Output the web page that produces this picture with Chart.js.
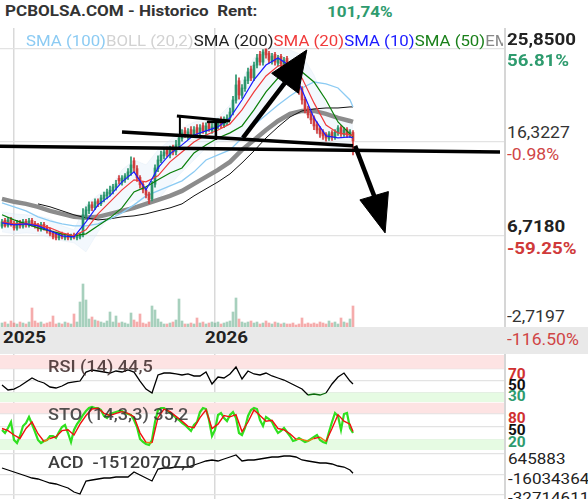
<!DOCTYPE html>
<html>
<head>
<meta charset="utf-8">
<script src="https://cdn.jsdelivr.net/npm/chart.js@4.4.1/dist/chart.umd.min.js"></script>
<style>
  body { margin: 0; width: 588px; height: 499px; overflow: hidden; background: #fff; position: relative; font-family: Roboto, "Noto Sans", sans-serif; }
  canvas { position: absolute; left: 0; }
  .t { position: absolute; white-space: pre; line-height: 1; transform: scaleX(1.1); transform-origin: left top; }
  .b { font-weight: 700; }
  .band { position: absolute; left: 0; top: 327px; width: 588px; height: 27px; background: #e9e9e9; }
  .sep { position: absolute; left: 504px; width: 2px; background: #d6d6d6; }
</style>
</head>
<body>
<canvas id="mainChart" width="504" height="300" style="top:28px"></canvas>
<canvas id="rsiChart" width="504" height="48" style="top:354px"></canvas>
<canvas id="stoChart" width="504" height="48" style="top:402px"></canvas>
<canvas id="acdChart" width="504" height="49" style="top:450px"></canvas>

<div class="band"></div>
<div class="sep" style="top:28px;height:299px"></div>
<div class="sep" style="top:354px;height:145px"></div>

<div class="t b" style="left:5px;top:4.3px;font-size:15.5px;color:#333">PCBOLSA.COM - Historico  Rent:</div>
<div class="t b" style="left:327px;top:4.8px;font-size:15.5px;color:#2e9b6e">101,74%</div>

<div style="position:absolute;left:26px;top:34px;width:477px;height:18px;overflow:hidden">
  <div class="t" style="left:0;top:0;font-size:15.3px"><span style="color:#8ccbf3">SMA (100)</span><span style="color:#d2d2d2">BOLL (20,2)</span><span style="color:#222">SMA (200)</span><span style="color:#f03a3a">SMA (20)</span><span style="color:#1a1aff">SMA (10)</span><span style="color:#1a801a">SMA (50)</span><span style="color:#888">EMA (200)</span></div>
</div>

<div class="t b" style="left:507px;top:30.5px;font-size:17px;color:#222">25,8500</div>
<div class="t b" style="left:507px;top:52px;font-size:17px;color:#2e9b6e">56.81%</div>
<div class="t" style="left:507px;top:124.5px;font-size:16px;color:#333">16,3227</div>
<div class="t" style="left:507px;top:146.5px;font-size:16px;color:#d04545">-0.98%</div>
<div class="t b" style="left:507px;top:217.5px;font-size:17px;color:#222">6,7180</div>
<div class="t b" style="left:507px;top:239.5px;font-size:17px;color:#d03a3a">-59.25%</div>
<div class="t" style="left:507px;top:308.5px;font-size:16px;color:#333">-2,7197</div>
<div class="t" style="left:507px;top:331.5px;font-size:16px;color:#d04545">-116.50%</div>

<div class="t b" style="left:3px;top:328.8px;font-size:17px;color:#222">2025</div>
<div class="t b" style="left:205px;top:328.8px;font-size:17px;color:#222">2026</div>

<div class="t" style="left:48px;top:359px;font-size:16.5px;color:rgba(60,40,40,0.85);font-weight:500">RSI (14) 44,5</div>
<div class="t" style="left:48px;top:407px;font-size:16.5px;color:rgba(50,50,50,0.85);font-weight:500">STO (14,3,3) 35,2</div>
<div class="t" style="left:48px;top:455px;font-size:16.5px;color:rgba(40,40,40,0.9);font-weight:500">ACD  -15120707,0</div>

<div class="t b" style="left:508px;top:367.2px;font-size:14px;color:#d03030">70</div>
<div class="t b" style="left:508px;top:378.2px;font-size:14px;color:#111">50</div>
<div class="t b" style="left:508px;top:389.2px;font-size:14px;color:#2e9b6e">30</div>
<div class="t b" style="left:508px;top:411.2px;font-size:14px;color:#d03030">80</div>
<div class="t b" style="left:508px;top:423.2px;font-size:14px;color:#111">50</div>
<div class="t b" style="left:508px;top:435.2px;font-size:14px;color:#2e9b6e">20</div>
<div class="t" style="left:508px;top:451.5px;font-size:15.5px;color:#222">645883</div>
<div class="t" style="left:508px;top:471.5px;font-size:15.5px;color:#222">-16034364</div>
<div class="t" style="left:508px;top:490.5px;font-size:15.5px;color:#222">-32714611</div>

<script>
// candles, one every 3 px
const opens = [7.7, 8.3, 7.8, 8.4, 8.0, 7.5, 8.1, 7.7, 8.2, 7.8,
  8.3, 8.0, 7.8, 7.4, 7.9, 7.6, 7.3, 7.0, 6.9, 6.5,
  6.9, 6.5, 6.8, 6.5, 6.8, 6.5, 6.6, 6.8, 8.8, 9.3,
  9.9, 9.6, 10.3, 10.0, 10.5, 10.8, 11.0, 11.3, 11.7, 12.6,
  12.2, 12.5, 12.8, 13.2, 14.4, 13.6, 12.7, 12.0, 11.4, 11.0,
  10.5, 12.0, 13.6, 14.4, 14.9, 15.5, 15.0, 15.7, 15.3, 16.0,
  16.7, 17.5, 16.9, 17.6, 17.1, 17.8, 17.2, 18.0, 17.4, 18.2,
  17.5, 17.8, 18.0, 18.6, 18.0, 18.4, 18.8, 19.4, 20.6, 22.6,
  21.1, 21.8, 22.6, 23.8, 22.9, 24.2, 25.3, 24.5, 25.85, 25.4,
  24.6, 25.3, 24.4, 25.1, 24.2, 24.9, 24.2, 23.6, 23.0, 22.5,
  21.8, 20.7, 19.7, 19.2, 18.8, 18.1, 17.7, 17.4, 17.1, 16.7,
  17.3, 16.8, 17.3, 17.8, 17.1, 17.6, 17.0, 17.3];
const closes = [8.15, 7.74, 8.35, 7.94, 7.53, 8.05, 7.74, 8.15, 7.85, 8.25,
  7.94, 7.74, 7.43, 7.85, 7.53, 7.23, 6.92, 6.61, 6.51, 6.82,
  6.61, 6.72, 6.51, 6.72, 6.61, 6.72, 6.82, 8.87, 9.38, 9.89,
  9.58, 10.2, 9.99, 10.6, 10.9, 11.2, 11.4, 11.73, 12.04, 12.35,
  12.65, 12.86, 13.27, 13.98, 13.67, 12.65, 11.94, 11.43, 10.91, 10.4,
  11.94, 13.67, 14.49, 15.0, 15.31, 15.1, 15.52, 15.31, 16.03, 16.74,
  17.26, 17.05, 17.36, 17.15, 17.56, 17.26, 17.77, 17.46, 17.97, 17.67,
  17.87, 18.18, 18.38, 18.08, 18.59, 18.79, 19.4, 20.63, 22.17, 21.14,
  21.86, 22.68, 23.5, 22.88, 24.21, 24.93, 24.52, 25.54, 25.24, 24.72,
  25.13, 24.52, 24.93, 24.32, 24.72, 24.11, 23.5, 22.88, 22.47, 21.66,
  20.63, 19.61, 19.1, 18.59, 17.97, 17.56, 17.15, 16.95, 16.74, 17.15,
  16.84, 17.36, 17.77, 17.15, 17.56, 17.05, 17.36, 16.44];
const highs = [8.4, 8.5, 8.6, 8.6, 8.2, 8.3, 8.3, 8.4, 8.4, 8.5,
  8.5, 8.2, 8.0, 8.1, 8.1, 7.8, 7.5, 7.2, 7.1, 7.0,
  7.1, 6.9, 7.0, 6.9, 7.0, 6.9, 7.0, 9.5, 9.7, 10.2,
  10.2, 10.5, 10.5, 10.9, 11.2, 11.5, 11.8, 12.0, 12.4, 12.9,
  12.9, 13.1, 13.6, 14.8, 14.7, 13.9, 12.9, 12.2, 11.6, 11.2,
  12.3, 14.0, 14.9, 15.4, 15.7, 15.8, 15.9, 16.0, 16.5, 17.1,
  17.6, 17.8, 17.7, 17.9, 17.9, 18.1, 18.1, 18.3, 18.3, 18.5,
  18.2, 18.5, 18.7, 18.9, 18.9, 19.1, 19.8, 21.0, 23.2, 22.9,
  22.2, 23.0, 23.9, 24.1, 24.5, 25.3, 25.6, 25.8, 25.85, 25.6,
  25.4, 25.5, 25.2, 25.3, 25.0, 25.1, 24.5, 23.9, 23.3, 22.8,
  22.0, 20.9, 20.0, 19.5, 19.0, 18.4, 17.9, 17.6, 17.3, 17.4,
  17.5, 17.6, 18.0, 18.0, 17.8, 17.8, 17.6, 17.5];
const lows = [7.5, 7.6, 7.6, 7.7, 7.3, 7.3, 7.5, 7.5, 7.6, 7.6,
  7.7, 7.5, 7.2, 7.2, 7.3, 7.0, 6.7, 6.4, 6.3, 6.3,
  6.4, 6.3, 6.3, 6.3, 6.4, 6.3, 6.4, 6.6, 8.5, 9.0,
  9.3, 9.4, 9.7, 9.8, 10.2, 10.5, 10.8, 11.0, 11.4, 12.0,
  11.9, 12.2, 12.5, 12.9, 13.3, 12.3, 11.6, 11.1, 10.6, 10.0,
  10.3, 11.7, 13.3, 14.2, 14.6, 14.8, 14.7, 15.0, 15.0, 15.7,
  16.4, 16.8, 16.6, 16.9, 16.8, 17.0, 16.9, 17.2, 17.1, 17.4,
  17.2, 17.5, 17.7, 17.8, 17.8, 18.1, 18.5, 19.1, 20.3, 20.7,
  20.8, 21.5, 22.3, 22.6, 22.6, 23.9, 24.2, 24.2, 24.9, 24.4,
  24.3, 24.2, 24.1, 24.0, 23.9, 23.8, 23.2, 22.6, 22.1, 21.2,
  20.2, 19.3, 18.8, 18.2, 17.6, 17.2, 16.8, 16.6, 16.4, 16.5,
  16.5, 16.6, 17.0, 16.9, 16.9, 16.8, 16.8, 15.0];
const volumes = [5, 6, 4, 7, 5, 4, 6, 5, 4, 6,
  20, 7, 5, 6, 4, 5, 6, 12, 4, 5,
  4, 6, 5, 4, 14, 6, 26, 44, 28, 9,
  11, 8, 7, 6, 5, 7, 16, 6, 12, 5,
  6, 5, 4, 15, 8, 6, 14, 5, 4, 6,
  22, 18, 9, 6, 4, 4, 5, 6, 8, 29,
  7, 4, 4, 5, 4, 10, 5, 6, 4, 5,
  6, 5, 6, 4, 5, 6, 7, 16, 30, 9,
  6, 5, 6, 7, 5, 6, 4, 5, 7, 5,
  4, 6, 5, 4, 5, 4, 4, 5, 3, 4,
  10, 4, 5, 4, 5, 4, 6, 5, 4, 7,
  5, 6, 4, 10, 6, 5, 9, 22];

// moving averages, read every 4 candles
const maIdx = [0, 4, 8, 12, 16, 20, 24, 28, 32, 36, 40, 44, 48, 52, 56, 60, 64, 68, 72, 76, 80, 84, 88, 92, 96, 100, 104, 108, 112, 116, 117];
const sma10 = [8.05, 7.84, 7.94, 7.74, 7.23, 6.72, 6.61, 8.15, 9.89, 10.81, 12.24, 13.27, 11.42, 13.67, 15.11, 16.03, 17.05, 17.46, 17.87, 18.79, 20.63, 22.68, 24.21, 24.93, 24.11, 21.66, 18.79, 16.95, 16.74, 16.85, 16.74];
const sma20 = [8.15, 7.94, 7.94, 7.84, 7.54, 7.02, 6.72, 7.33, 8.97, 10.20, 11.42, 12.45, 12.24, 12.86, 14.29, 15.31, 16.33, 17.05, 17.56, 18.18, 19.61, 21.45, 23.09, 24.11, 24.32, 22.88, 20.33, 18.07, 17.26, 17.05, 16.95];
const sma50 = [8.87, 8.35, 7.94, 7.54, 7.23, 6.92, 6.72, 6.92, 7.74, 8.56, 9.58, 11.22, 11.73, 12.45, 13.16, 13.67, 15.21, 16.03, 16.74, 17.26, 17.97, 19.61, 21.45, 22.88, 23.50, 23.50, 22.47, 20.63, 18.38, 17.15, 16.85];
const sma100 = [10.09, 9.69, 9.28, 8.66, 8.25, 7.94, 7.74, 7.74, 7.94, 8.46, 9.07, 9.89, 10.81, 11.32, 11.83, 12.35, 13.27, 14.49, 15.00, 15.52, 16.74, 18.07, 19.10, 20.12, 21.04, 21.86, 22.47, 22.27, 21.86, 20.63, 19.92];
const sma200 = [null, null, null, 9.99, 9.69, 9.28, 8.87, 8.56, 8.35, 8.46, 8.66, 8.76, 8.97, 9.28, 9.58, 9.99, 10.81, 11.53, 12.24, 13.06, 14.19, 15.41, 16.74, 17.87, 18.89, 19.51, 19.71, 19.81, 19.81, 19.92, 19.92];
const ema200 = [10.50, 10.20, 9.99, 9.69, 9.28, 8.97, 8.66, 8.56, 8.66, 8.97, 9.28, 9.58, 9.99, 10.40, 10.81, 11.32, 12.04, 12.75, 13.47, 14.29, 15.52, 16.54, 17.56, 18.48, 19.20, 19.51, 19.51, 19.20, 18.79, 18.48, 18.38];
const bollUp = [9.17, 8.97, 8.87, 8.76, 8.46, 7.74, 7.33, 9.89, 10.91, 11.63, 13.47, 14.49, 13.98, 15.52, 16.54, 17.77, 18.38, 18.59, 18.89, 20.12, 22.68, 24.93, 25.95, 26.16, 25.75, 25.24, 23.19, 20.12, 18.79, 18.18, 18.07];
const bollLow = [7.13, 6.92, 7.02, 6.92, 6.51, 6.21, 6.00, 5.08, 7.13, 8.76, 9.58, 10.40, 10.20, 10.40, 11.94, 13.27, 14.49, 15.72, 16.33, 16.54, 16.74, 18.07, 20.43, 22.06, 22.68, 20.63, 17.56, 15.93, 15.52, 15.93, 15.93];

// hand drawn lines on the price pane: [candle index, price] pairs
const trendFloor = [[-0.7, 15.88], [166, 15.31]];
const neckLine = [[40, 17.36], [117, 15.93]];
const flagTop = [[58.3, 19.0], [76, 18.48]];
const flagPost = [[59.3, 19.0], [59.3, 16.85]];
const tBar = [[68.3, 18.38], [74.7, 18.38]];
const tPost = [[71.3, 18.38], [71.3, 16.54]];
const upShaft = [[80.3, 16.74], [94.3, 22.37]];
const upHead = [[89.9, 23.36], [101.6, 25.75], [98.8, 21.32], [89.9, 23.36]];
const downShaft = [[117.7, 15.93], [124.3, 10.61]];
const downHead = [[119.3, 10.40], [127.7, 7.02], [128.8, 11.25], [119.3, 10.40]];

// indicators, read every 2 candles
const subIdx = [0, 2, 4, 6, 8, 10, 12, 14, 16, 18, 20, 22, 24, 26, 28, 30, 32, 34, 36, 38, 40, 42, 44, 46, 48, 50, 52, 54, 56, 58,
  60, 62, 64, 66, 68, 70, 72, 74, 76, 78, 80, 82, 84, 86, 88, 90, 92, 94, 96, 98, 100, 102, 104, 106, 108, 110, 112, 114, 116, 117];
const rsi = [42.7, 34.3, 35.9, 41.0, 47.8, 54.5, 49.4, 46.1, 39.3, 37.6,
  41.0, 46.1, 47.8, 49.4, 64.6, 68.0, 66.3, 64.6, 62.9, 66.3,
  64.6, 68.0, 64.6, 49.4, 35.9, 29.2, 59.6, 62.9, 62.9, 61.3,
  59.6, 61.3, 57.9, 57.9, 64.6, 44.4, 56.2, 54.5, 61.3, 73.1,
  52.8, 66.3, 61.3, 59.6, 62.9, 57.9, 54.5, 51.1, 46.1, 41.0,
  35.9, 25.8, 27.5, 25.8, 29.2, 44.4, 56.2, 62.9, 49.4, 44.5];
const stoD = [45, 40, 30, 22, 45, 60, 33, 15, 22, 26,
  40, 42, 30, 55, 75, 90, 92, 80, 75, 80,
  84, 80, 72, 35, 13, 12, 70, 90, 84, 73,
  62, 50, 47, 70, 88, 45, 55, 75, 72, 77,
  38, 60, 88, 75, 62, 64, 45, 42, 33, 20,
  20, 16, 22, 25, 15, 45, 77, 62, 55, 38];
const acdMillions = [-10.86, -12.50, -14.14, -15.79, -17.43, -19.07, -19.90, -21.54, -23.18, -24.00,
  -25.65, -27.29, -30.58, -32.22, -21.54, -20.72, -19.90, -19.07, -19.07, -18.25,
  -18.25, -18.25, -14.14, -16.61, -19.07, -21.54, -11.68, -10.86, -10.86, -10.04,
  -10.04, -10.04, -8.39, -6.75, -5.11, -4.28, -5.11, -3.46, -1.82, -0.18,
  -5.11, -4.28, -4.28, -3.46, -2.64, -1.82, -1.82, -1.00, -1.00, -1.82,
  -4.28, -5.11, -5.93, -6.75, -6.75, -7.57, -9.21, -10.04, -12.50, -15.12];
// %K is read on every candle
const stoK = [41.6, 34.6, 46.2, 60.0, 18.5, 11.6, 27.7, 50.8, 57.7, 71.6,
  55.4, 37.0, 18.5, 11.6, 16.2, 18.5, 27.7, 27.7, 23.1, 37.0,
  48.5, 53.1, 34.6, 13.9, 41.6, 55.4, 64.6, 76.2, 85.4, 92.3,
  94.7, 92.3, 92.3, 87.7, 73.9, 69.3, 78.5, 80.8, 83.1, 85.4,
  85.4, 80.8, 78.5, 76.2, 64.6, 48.5, 20.8, 13.9, 9.3, 7.0,
  18.5, 60.0, 87.7, 92.3, 92.3, 87.7, 80.8, 76.2, 69.3, 64.6,
  57.7, 53.1, 46.2, 39.3, 53.1, 60.0, 83.1, 92.3, 90.0, 64.6,
  27.7, 41.6, 76.2, 80.8, 69.3, 62.3, 76.2, 83.1, 69.3, 34.6,
  30.0, 46.2, 73.9, 87.7, 92.3, 90.0, 64.6, 50.8, 71.6, 67.0,
  60.0, 46.2, 34.6, 39.3, 46.2, 37.0, 27.7, 16.2, 18.5, 23.1,
  18.5, 13.9, 16.2, 20.8, 25.4, 30.0, 18.5, 13.9, 11.6, 37.0,
  60.0, 80.8, 73.9, 41.6, 78.5, 80.8, 46.2, 34.6];

// axis values
const yearTicks = [4, 71];
const priceTicks = [25.85, 16.3227, 6.718];
const rsiTicks = [70, 50, 30];
const stoTicks = [80, 50, 20];
const acdTicks = [0.645883, -16.034364, -32.714611];

const xMin = -2 / 3;
const xMax = 502 / 3;

const pts = (idx, vals) => idx.map((x, k) => ({ x: x, y: vals[k] })).filter(p => p.y !== null);
const pairs = arr => arr.map(p => ({ x: p[0], y: p[1] }));

function xScale() {
    return {
        type: 'linear',
        min: xMin,
        max: xMax,
        offset: false,
        grid: { offset: false, color: '#d9d9d9', lineWidth: 1.5, drawTicks: false },
        border: { display: false },
        ticks: { display: false },
        afterBuildTicks: a => { a.ticks = yearTicks.map(v => ({ value: v })); },
        afterFit: a => { a.height = 0; }
    };
}

function yScale(min, max, ticks) {
    return {
        min: min,
        max: max,
        grid: { color: '#e3e3e3', lineWidth: 1.2, drawTicks: false },
        border: { display: false },
        ticks: { display: false },
        afterBuildTicks: a => { a.ticks = ticks.map(v => ({ value: v })); },
        afterFit: a => { a.width = 0; }
    };
}

const baseOptions = {
    animation: false,
    responsive: false,
    layout: { padding: 0 },
    plugins: { legend: { display: false }, tooltip: { enabled: false } }
};

function line(data, color, width, order, extra) {
    return Object.assign({
        type: 'line',
        data: data,
        borderColor: color,
        borderWidth: width,
        pointRadius: 0,
        tension: 0,
        fill: false,
        order: order
    }, extra || {});
}

const up = closes.map((c, i) => c >= opens[i]);
const candleColors = up.map(u => u ? '#2a946c' : '#d03c3c');

new Chart(document.getElementById('mainChart'), {
    type: 'bar',
    data: {
        datasets: [
            line(pts(maIdx, bollUp), 'rgba(205,222,240,0.4)', 0.6, 20, { fill: '+1', backgroundColor: 'rgba(220,235,250,0.35)' }),
            line(pts(maIdx, bollLow), 'rgba(205,222,240,0.4)', 0.6, 20),
            {
                type: 'bar',
                data: volumes.map((v, i) => ({ x: i, y: v })),
                yAxisID: 'yv',
                backgroundColor: up.map(u => u ? 'rgba(95,170,135,0.55)' : 'rgba(235,90,90,0.5)'),
                barThickness: 2,
                grouped: false,
                order: 15
            },
            line(pts(maIdx, ema200), '#8c8c8c', 4.5, 12),
            line(pts(maIdx, sma200), '#111', 1, 11),
            line(pts(maIdx, sma100), '#8ccbf3', 1.3, 10),
            {
                type: 'bar',
                data: highs.map((h, i) => ({ x: i, y: [lows[i], h] })),
                backgroundColor: candleColors,
                barThickness: 1,
                grouped: false,
                order: 9
            },
            {
                type: 'bar',
                data: closes.map((c, i) => ({ x: i, y: [opens[i], c] })),
                backgroundColor: candleColors,
                barThickness: 2,
                grouped: false,
                order: 8
            },
            line(pts(maIdx, sma50), '#0a800a', 1.2, 6),
            line(pts(maIdx, sma20), '#f03a3a', 1.2, 5),
            line(pts(maIdx, sma10), '#1a1aff', 1.2, 4),
            line(pairs(trendFloor), '#000', 3.5, 2),
            line(pairs(neckLine), '#000', 3.5, 2),
            line(pairs(flagTop), '#000', 3, 2),
            line(pairs(flagPost), '#000', 2, 2),
            line(pairs(tBar), '#000', 2.5, 2),
            line(pairs(tPost), '#000', 2.5, 2),
            line(pairs(upShaft), '#000', 4.5, 2),
            line(pairs(downShaft), '#000', 4.5, 2),
            line(pairs(upHead), '#000', 1, 1, { fill: 'shape', backgroundColor: '#000' }),
            line(pairs(downHead), '#000', 1, 1, { fill: 'shape', backgroundColor: '#000' })
        ]
    },
    options: Object.assign({}, baseOptions, {
        scales: {
            x: xScale(),
            y: yScale(-2.72, 28.0, priceTicks),
            yv: { min: 0, max: 300, display: false }
        }
    })
});

// RSI pane
new Chart(document.getElementById('rsiChart'), {
    type: 'line',
    data: {
        datasets: [
            line([{ x: xMin, y: 93.3 }, { x: xMax, y: 93.3 }], 'rgba(0,0,0,0)', 0, 10, { fill: { value: 70 }, backgroundColor: '#fde3e3' }),
            line([{ x: xMin, y: 14 }, { x: xMax, y: 14 }], 'rgba(0,0,0,0)', 0, 10, { fill: { value: 30 }, backgroundColor: '#e6fbe3' }),
            line(pts(subIdx, rsi), '#000', 1.3, 1, {
                segment: {
                    borderColor: ctx => {
                        const v = (ctx.p0.parsed.y + ctx.p1.parsed.y) / 2;
                        return v > 70 ? '#7a1515' : (v < 30 ? '#0b6a0b' : '#000');
                    }
                }
            })
        ]
    },
    options: Object.assign({}, baseOptions, {
        scales: { x: xScale(), y: yScale(14, 95, rsiTicks) }
    })
});

// STO pane
new Chart(document.getElementById('stoChart'), {
    type: 'line',
    data: {
        datasets: [
            line([{ x: xMin, y: 104.6 }, { x: xMax, y: 104.6 }], 'rgba(0,0,0,0)', 0, 10, { fill: { value: 80 }, backgroundColor: '#fde3e3' }),
            line([{ x: xMin, y: -4.6 }, { x: xMax, y: -4.6 }], 'rgba(0,0,0,0)', 0, 10, { fill: { value: 20 }, backgroundColor: '#e6fbe3' }),
            line(stoK.map((v, i) => ({ x: i, y: v })), '#2fe01f', 2.2, 3),
            line(pts(subIdx, stoD), '#f01010', 1.4, 2, {
                segment: {
                    borderColor: ctx => ((ctx.p0.parsed.y + ctx.p1.parsed.y) / 2 < 22 ? '#f07a10' : '#f01010')
                }
            })
        ]
    },
    options: Object.assign({}, baseOptions, {
        scales: { x: xScale(), y: yScale(-4.6, 106.2, stoTicks) }
    })
});

// ACD pane
new Chart(document.getElementById('acdChart'), {
    type: 'line',
    data: {
        datasets: [
            line(pts(subIdx, acdMillions), '#000', 1.3, 1)
        ]
    },
    options: Object.assign({}, baseOptions, {
        scales: { x: xScale(), y: yScale(-36.33, 3.93, acdTicks) }
    })
});
</script>
</body>
</html>
